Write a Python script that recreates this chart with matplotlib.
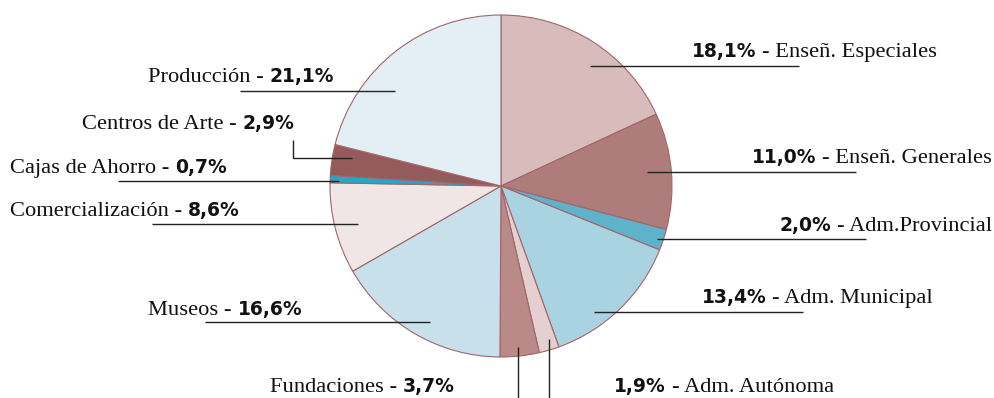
import matplotlib
matplotlib.use("Agg")
import matplotlib.pyplot as plt

# data, clockwise from the top
labels = ["Enseñ. Especiales", "Enseñ. Generales", "Adm.Provincial", "Adm. Municipal",
          "Adm. Autónoma", "Fundaciones", "Museos", "Comercialización",
          "Cajas de Ahorro", "Centros de Arte", "Producción"]
shares = [18.1, 11.0, 2.0, 13.4, 1.9, 3.7, 16.6, 8.6, 0.7, 2.9, 21.1]
colors = ["#D8BCBC", "#AE7C7A", "#5EB3CB", "#AAD3E1", "#E4D0D0", "#B98A88",
          "#C7E0EA", "#F0E6E5", "#27A6C5", "#955A5C", "#E3EFF5"]

H = 398

# label layout in pixels (top-left origin): side, anchor x, baseline y
label_pos = {
    "Producción": ("L", 148, 82),
    "Centros de Arte": ("L", 82, 129),
    "Cajas de Ahorro": ("L", 10, 173),
    "Comercialización": ("L", 10, 216),
    "Museos": ("L", 148, 315),
    "Fundaciones": ("L", 270, 392),
    "Adm. Autónoma": ("R", 834, 392),
    "Adm. Municipal": ("R", 933, 303),
    "Adm.Provincial": ("R", 992, 231),
    "Enseñ. Generales": ("R", 992, 163),
    "Enseñ. Especiales": ("R", 937, 57),
}
# leader lines (pixels, top-left origin)
leaders = [
    [(240, 91), (395, 91)],
    [(293, 140), (293, 158), (352, 158)],
    [(118, 181), (339, 181)],
    [(152, 224), (358, 224)],
    [(205, 322), (430, 322)],
    [(518, 347), (518, 398)],
    [(549, 339), (549, 398)],
    [(594, 312), (803, 312)],
    [(657, 239), (866, 239)],
    [(647, 172), (856, 172)],
    [(590, 66), (799, 66)],
]


def main():
    fig = plt.figure(figsize=(9.95, 3.98), dpi=100)
    ax = fig.add_axes([0, 0, 1, 1])
    ax.pie(shares, colors=colors, startangle=90, counterclock=False,
           center=(501, H - 186), radius=171,
           wedgeprops=dict(edgecolor="#A0666A", linewidth=0.8))
    ax.set_xlim(0, 995)
    ax.set_ylim(0, H)
    ax.axis("off")

    for pts in leaders:
        xs = [p[0] for p in pts]
        ys = [H - p[1] for p in pts]
        ax.plot(xs, ys, color="#222222", linewidth=1.0, solid_capstyle="butt")

    renderer = fig.canvas.get_renderer()
    serif = dict(family="Liberation Serif", fontsize=16.2, color="#111111")
    bold = dict(family="DejaVu Sans", fontsize=13.5, fontweight="bold", color="#111111")
    for name, val in zip(labels, shares):
        side, x, y = label_pos[name]
        pct = f"{val:.1f}%".replace(".", ",")
        if side == "L":
            t = ax.text(x, H - y, name + " -", ha="left", va="baseline", **serif)
            bb = t.get_window_extent(renderer)
            ax.text(bb.x1 + 6, H - y, pct, ha="left", va="baseline", **bold)
        else:
            t = ax.text(x, H - y, "- " + name, ha="right", va="baseline", **serif)
            bb = t.get_window_extent(renderer)
            ax.text(bb.x0 - 6, H - y, pct, ha="right", va="baseline", **bold)

    fig.savefig("out.png", dpi=100)


if __name__ == "__main__":
    main()
